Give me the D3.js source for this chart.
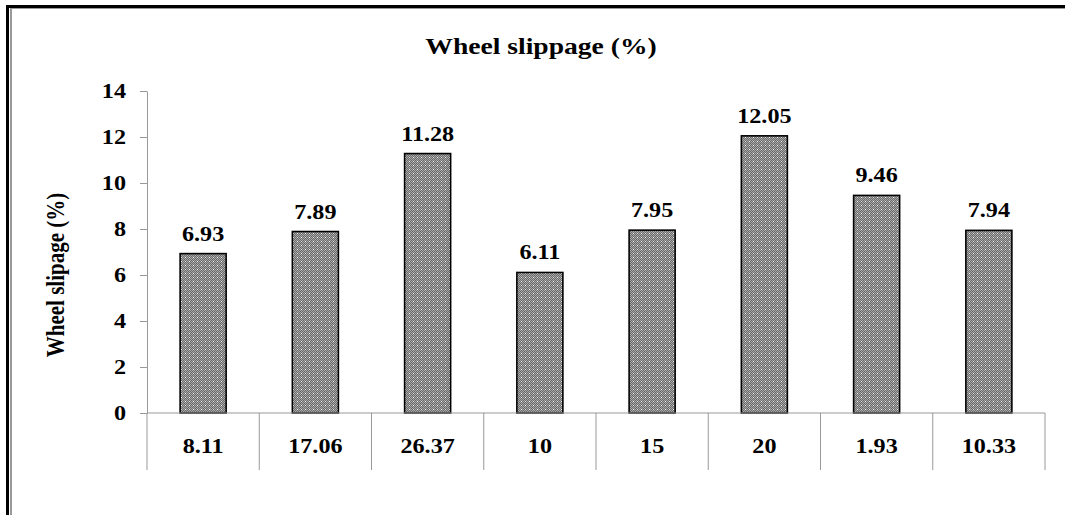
<!DOCTYPE html>
<html>
<head>
<meta charset="utf-8">
<script src="https://cdn.jsdelivr.net/npm/d3@7"></script>
<style>
  html, body { margin: 0; padding: 0; background: #fff; }
  svg { display: block; }
  text { font-family: "Liberation Serif", "Times New Roman", serif; font-weight: bold; fill: #000; }
</style>
</head>
<body>
<svg id="chart" width="1065" height="515"></svg>
<script>
const categories = ["8.11", "17.06", "26.37", "10", "15", "20", "1.93", "10.33"];
const values = [6.93, 7.89, 11.28, 6.11, 7.95, 12.05, 9.46, 7.94];
const yTicks = [0, 2, 4, 6, 8, 10, 12, 14];
const titleText = "Wheel slippage (%)";
const yTitleText = "Wheel slipage (%)";

const svg = d3.select("#chart");
const W = 1065, H = 515;
const plot = { left: 147, right: 1045, top: 91, bottom: 413 };
const SX = 1.15; // horizontal stretch of the original rendering

// frame
svg.append("rect").attr("x", 6).attr("y", 5).attr("width", W - 6).attr("height", 3).attr("fill", "#000");
svg.append("rect").attr("x", 6).attr("y", 5).attr("width", 3).attr("height", H - 5).attr("fill", "#000");
svg.append("rect").attr("x", 10).attr("y", 8).attr("width", W - 10).attr("height", 1).attr("fill", "#999");
svg.append("rect").attr("x", 10).attr("y", 8).attr("width", 2).attr("height", H - 8).attr("fill", "#999");

// pattern
const defs = svg.append("defs");
const pat = defs.append("pattern").attr("id", "dots").attr("patternUnits", "userSpaceOnUse")
  .attr("width", 8).attr("height", 8);
pat.append("rect").attr("width", 8).attr("height", 8).attr("fill", "#6a6a6a");
for (let i = 0; i < 8; i++) for (let j = 0; j < 8; j++) {
  if ((i + j) % 2 === 0) pat.append("rect").attr("x", i).attr("y", j).attr("width", 1).attr("height", 1).attr("fill", "#a8a8a8");
}
[[1,1],[5,5],[1,5],[5,1]].forEach(([a,b],k) => {
  pat.append("rect").attr("x", a).attr("y", b).attr("width", 1).attr("height", 1).attr("fill", k < 2 ? "#ffffff" : "#dcdcdc");
});

const y = d3.scaleLinear().domain([0, 14]).range([plot.bottom, plot.top]);
const xCat = d3.scaleBand().domain(categories).range([plot.left, plot.right]).padding(0);
const xBar = d3.scaleBand().domain(categories).range([plot.left, plot.right]).paddingInner(0.59).paddingOuter(0.295);

function stretched(sel, x, yPos, s) {
  sel.attr("transform", `translate(${x},${yPos}) scale(${s},1)`);
}

// title
svg.append("text").text(titleText).attr("text-anchor", "middle").style("font-size", "23px")
  .call(stretched, 541, 54, 1.2);

// y axis
const yAxis = d3.axisLeft(y).tickValues(yTicks).tickSize(7).tickSizeOuter(0).tickFormat(d => "");
const ga = svg.append("g").attr("transform", `translate(${plot.left},0)`).call(yAxis);
ga.selectAll("path, line").attr("stroke", "#999").attr("stroke-width", 1);
svg.selectAll(".ytl").data(yTicks).enter().append("text").attr("class", "ytl")
  .text(d => d).attr("text-anchor", "end").style("font-size", "21px")
  .each(function(d) { d3.select(this).call(stretched, 126, y(d) + 7, SX); });

// y title
svg.append("text").text(yTitleText).attr("text-anchor", "middle").style("font-size", "21px")
  .attr("transform", `translate(64,275) rotate(-90) scale(1,1.15)`);

// bars
svg.selectAll(".bar").data(values).enter().append("rect").attr("class", "bar")
  .attr("x", (d, i) => xBar(categories[i]))
  .attr("width", xBar.bandwidth())
  .attr("y", d => y(d))
  .attr("height", d => y(0) - y(d))
  .attr("fill", "url(#dots)")
  .attr("stroke", "#000").attr("stroke-width", 1.6);

// value labels
svg.selectAll(".vl").data(values).enter().append("text").attr("class", "vl")
  .text(d => d.toFixed(2)).attr("text-anchor", "middle").style("font-size", "21px")
  .each(function(d, i) { d3.select(this).call(stretched, xCat(categories[i]) + xCat.bandwidth() / 2, y(d) - 13, SX); });

// x axis line and separators
svg.append("line").attr("x1", plot.left).attr("x2", plot.right).attr("y1", plot.bottom).attr("y2", plot.bottom)
  .attr("stroke", "#999").attr("stroke-width", 1);
const bounds = categories.map(c => xCat(c)).concat([plot.right]);
svg.selectAll(".sep").data(bounds).enter().append("line").attr("class", "sep")
  .attr("x1", d => d).attr("x2", d => d).attr("y1", plot.bottom).attr("y2", 470)
  .attr("stroke", "#999").attr("stroke-width", 1);

// category labels
svg.selectAll(".xl").data(categories).enter().append("text").attr("class", "xl")
  .text(d => d).attr("text-anchor", "middle").style("font-size", "21px")
  .each(function(d) { d3.select(this).call(stretched, xCat(d) + xCat.bandwidth() / 2, 453, SX); });
</script>
</body>
</html>
